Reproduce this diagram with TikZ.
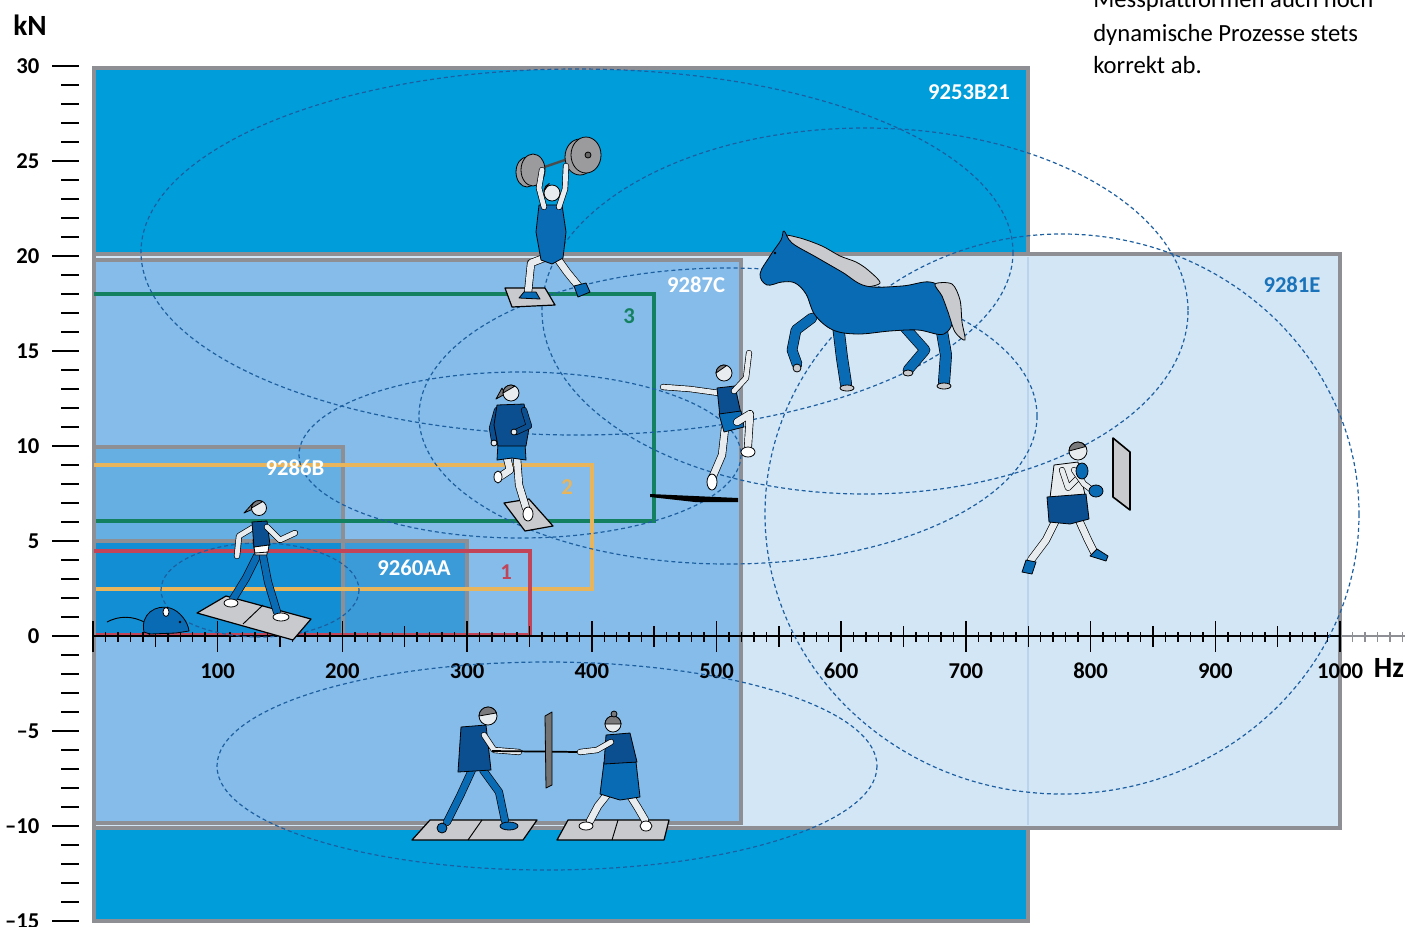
\documentclass[tikz,border=0pt]{standalone}
\usepackage{fontspec}
\setmainfont{Carlito}
\usepackage{tikz}

\definecolor{sensorblue}{HTML}{009DDB}
\definecolor{paleblue}{HTML}{D3E6F5}
\definecolor{midblue}{HTML}{86BCE9}
\definecolor{lightmid}{HTML}{66AFE2}
\definecolor{deepmid}{HTML}{3B9BD8}
\definecolor{overlapblue}{HTML}{128FD4}
\definecolor{framegrey}{HTML}{8E8F94}
\definecolor{seamblue}{HTML}{BBD4EE}
\definecolor{zoneblue}{HTML}{1D5FA0}
\definecolor{rangegreen}{HTML}{138060}
\definecolor{rangeorange}{HTML}{E8B55C}
\definecolor{rangered}{HTML}{C24459}
\definecolor{labelblue}{HTML}{1A73BA}
\definecolor{shirtblue}{HTML}{0B4F91}
\definecolor{suitblue}{HTML}{0A6BB5}
\definecolor{skin}{HTML}{E9ECEF}
\definecolor{hairgrey}{HTML}{7A7A7D}
\definecolor{plategrey}{HTML}{C9CACD}
\definecolor{discgrey}{HTML}{9B9B9E}

\tikzset{
    platformframe/.style={draw=framegrey, line width=3pt},
    rangebox/.style={line width=2.6pt},
    zonering/.style={draw=zoneblue, line width=0.9pt, dash pattern=on 3pt off 2.2pt},
    tickmark/.style={line width=1.1pt},
    ticklbl/.style={font=\fontsize{17}{19}\selectfont\bfseries},
    axislbl/.style={font=\fontsize{22}{24}\selectfont\bfseries},
    boxlbl/.style={font=\fontsize{17}{19}\selectfont\bfseries, text=white},
    rangelbl/.style={font=\fontsize{17}{18}\selectfont\bfseries},
    captionline/.style={anchor=base west, font=\fontsize{18.5}{24}\selectfont, inner sep=0pt},
    limb/.style={draw=black, line width=0.5pt, double=#1, double distance=5pt,
                 line cap=round, line join=round},
    arm/.style={limb=#1, double distance=3.6pt},
    part/.style={draw=black, line width=0.6pt, fill=#1, line join=round},
    plate/.style={part=plategrey, line width=0.9pt},
}

\begin{document}
\begin{tikzpicture}[x=0.75pt, y=-0.75pt]
    \useasboundingbox (0,0) rectangle (1417,926);

    % measuring ranges of the platforms
    \draw[platformframe, fill=sensorblue] (94,68) rectangle (1028,921);
    \draw[platformframe, fill=paleblue] (94,254) rectangle (1340,828);
    \draw[seamblue, line width=2.2pt] (1028,257) -- (1028,825);
    \draw[platformframe, fill=midblue] (94,260) rectangle (741,823);
    \fill[lightmid] (94,447) rectangle (343,636);
    \fill[deepmid] (94,541) rectangle (467,636);
    \fill[overlapblue] (94,541) rectangle (343,636);
    \draw[platformframe] (94,636) |- (343,447) -- (343,636);
    \draw[platformframe] (94,636) |- (467,541) -- (467,636);

    \draw[rangebox, rangegreen] (94,294) -| (654,521) -- (96,521);
    \draw[rangebox, rangeorange] (94,465) -| (592,589) -- (96,589);
    \draw[rangebox, rangered] (94,551) -| (530,635) -- (96,635);

    % axes
    \draw[line width=1.5pt] (93,636) -- (1341,636);
    \draw[line width=1.5pt, framegrey] (1341,636) -- (1405,636);
    \foreach \f in {0,10,...,1000}
        \draw[tickmark] ({93+1.247*\f},632) -- ++(0,10);
    \foreach \f in {0,50,...,1000}
        \draw[tickmark] ({93+1.247*\f},626) -- ++(0,21);
    \foreach \f in {0,100,...,1000}
        \draw[tickmark] ({93+1.247*\f},621) -- ++(0,31);
    \foreach \f in {1010,1020,...,1050}
        \draw[tickmark, framegrey] ({93+1.247*\f},632) -- ++(0,10);
    \foreach \f in {100,200,...,1000}
        \node[ticklbl] (hz\f) at ({93+1.247*\f},671) {\f};

    \foreach \k in {-15,...,30}
        \draw[tickmark] (61,{636-19*\k}) -- (79,{636-19*\k});
    \foreach \k in {-15,-10,...,30}
        \draw[tickmark] (52,{636-19*\k}) -- (79,{636-19*\k});
    \foreach \k/\t in {30/30,25/25,20/20,15/15,10/10,5/5,0/0,-5/–5,-10/–10,-15/–15}
        \node[ticklbl, anchor=east] (kn\k) at (44,{636-19*\k}) {\t};

    \node[axislbl] (unitkn) at (30,25) {kN};
    \node[axislbl] (unithz) at (1389,668) {Hz};

    % typical load zones
    \draw[zonering] (577,252) ellipse [x radius=436, y radius=183];
    \draw[zonering] (865,311) ellipse [x radius=323, y radius=183];
    \draw[zonering] (728,416) ellipse [x radius=309, y radius=148];
    \draw[zonering] (1062,514) ellipse [x radius=297, y radius=280];
    \draw[zonering] (520,455) ellipse [x radius=221, y radius=83];
    \draw[zonering] (260,590) ellipse [x radius=99, y radius=47];
    \draw[zonering] (547,766) ellipse [x radius=330, y radius=104];

    % mouse
    \draw[line width=0.7pt] (146,623) .. controls (132,615) and (118,616) .. (107,622);
    \path[part=suitblue] (144,632) .. controls (140,614) and (156,604) .. (170,608)
        .. controls (180,611) and (188,622) .. (189,631) -- (176,633) -- (150,634) -- cycle;
    \path[part=white] (166,612) ellipse [x radius=3, y radius=4.5];
    \fill (180,622) circle [radius=1.4];
    \draw[line width=0.6pt] (150,633) -- (148,637) (168,633) -- (170,637);

    % walker
    \path[plate] (197,613) -- (226,596) -- (311,619) -- (293,640) -- cycle;
    \draw[line width=0.7pt] (243,624) -- (263,605);
    \draw[arm=skin] (254,527) -- (239,536) -- (237,556);
    \draw[limb=suitblue] (257,556) -- (246,578) -- (233,599);
    \path[part=white] (231,603) ellipse [x radius=7, y radius=4];
    \draw[limb=suitblue] (263,556) -- (268,582) -- (277,612);
    \path[part=white] (281,617) ellipse [x radius=8, y radius=4];
    \path[part=skin] (253,540) -- (268,540) -- (267,555) -- (255,555) -- cycle;
    \path[part=shirtblue] (252,522) -- (267,521) -- (270,545) -- (254,547) -- cycle;
    \path[part=white] (254,547) -- (269,545) -- (268,552) -- (255,553) -- cycle;
    \draw[arm=skin] (267,527) -- (280,540) -- (295,533);
    \path[part=hairgrey] (253,503) -- (244,513) -- (253,509) -- cycle;
    \path[part=skin] (259,508) circle [radius=7.5];
    \path[part=hairgrey] (251.5,508) arc [start angle=180, end angle=300, radius=7.5] -- cycle;

    % runner
    \path[plate] (504,503) -- (529,499) -- (553,526) -- (525,531) -- cycle;
    \draw[limb=skin] (507,458) -- (510,470) -- (501,476);
    \path[part=white] (498,477) ellipse [x radius=4, y radius=6];
    \draw[limb=skin] (517,458) -- (519,485) -- (526,508);
    \path[part=white] (528,514) ellipse [x radius=5, y radius=7];
    \path[part=suitblue] (498,443) -- (525,443) -- (526,460) -- (512,458) -- (497,460) -- cycle;
    \draw[arm=shirtblue] (497,410) -- (492,428) -- (494,440);
    \path[part=skin] (494,443) circle [radius=3];
    \path[part=shirtblue] (497,405) -- (524,404) -- (529,428) -- (526,446) -- (498,446) -- (494,425) -- cycle;
    \draw[arm=shirtblue] (524,410) -- (529,426) -- (516,432);
    \path[part=skin] (514,432) circle [radius=3];
    \path[part=hairgrey] (502,388) -- (496,399) -- (505,394) -- cycle;
    \path[part=skin] (511,393) circle [radius=8];
    \path[part=hairgrey] (503,393) arc [start angle=180, end angle=300, radius=8] -- cycle;

    % jumper
    \fill (650,494) -- (738,498) -- (738,502) -- (695,502) -- (650,497) -- cycle;
    \draw[limb=skin] (725,428) -- (722,455) -- (713,476);
    \path[part=white] (712,482) ellipse [x radius=5, y radius=8];
    \draw[arm=skin] (719,393) -- (690,389) -- (663,387);
    \path[part=shirtblue] (717,388) -- (735,386) -- (741,414) -- (720,417) -- cycle;
    \path[part=suitblue] (719,414) -- (741,411) -- (744,427) -- (724,432) -- cycle;
    \draw[limb=skin] (737,422) -- (750,414) -- (748,446);
    \path[part=white] (748,452) ellipse [x radius=7, y radius=5];
    \draw[arm=skin] (734,391) -- (746,378) -- (749,353);
    \path[part=skin] (724,373) circle [radius=8];
    \path[part=hairgrey] (716,373) arc [start angle=180, end angle=290, radius=8] -- cycle;

    % weightlifter
    \path[plate] (505,288) -- (545,288) -- (555,305) -- (512,307) -- cycle;
    \draw[limb=skin] (557,258) -- (567,272) -- (580,288);
    \path[part=suitblue] (574,286) -- (586,283) -- (590,292) -- (578,297) -- cycle;
    \draw[limb=skin] (544,258) -- (531,263) -- (528,293);
    \path[part=suitblue] (519,298) -- (524,292) -- (536,292) -- (540,299) -- cycle;
    \path[part=suitblue] (539,205) -- (562,205) -- (566,232) -- (563,258) -- (552,264)
        -- (541,260) -- (536,232) -- cycle;
    \draw[line width=1.8pt, black!70] (524,174) -- (594,150);
    \path[part=discgrey] (527,172) ellipse [x radius=11, y radius=15];
    \path[part=discgrey] (533,170) ellipse [x radius=12, y radius=16];
    \path[part=discgrey] (580,157) ellipse [x radius=15, y radius=18];
    \path[part=discgrey] (586,155) ellipse [x radius=15, y radius=18];
    \path[part=black!60] (588,155) circle [radius=3];
    \draw[arm=skin] (544,207) -- (539,188) -- (542,170);
    \draw[arm=skin] (559,207) -- (565,189) -- (566,166);
    \path[part=skin] (552,193) circle [radius=8];
    \path[part=hairgrey] (544,191) arc [start angle=180, end angle=250, radius=8] -- cycle;

    % horse
    \draw[limb=suitblue, double distance=7pt] (900,322) -- (925,350) -- (908,370);
    \draw[limb=suitblue, double distance=7pt] (812,318) -- (796,330) -- (792,350) -- (797,364);
    \draw[limb=suitblue, double distance=8pt] (838,325) -- (842,358) -- (846,384);
    \draw[limb=suitblue, double distance=8pt] (940,320) -- (946,355) -- (944,382);
    \path[part=plategrey] (908,373) ellipse [x radius=5, y radius=3];
    \path[part=plategrey] (797,368) ellipse [x radius=4, y radius=4];
    \path[part=plategrey] (847,388) ellipse [x radius=7, y radius=3];
    \path[part=plategrey] (944,386) ellipse [x radius=7, y radius=3];
    \path[part=plategrey] plot[smooth cycle, tension=0.5] coordinates {(783,236) (800,238)
        (822,246) (840,256) (856,262) (868,270) (880,283) (862,287) (840,280) (815,268)
        (797,256)};
    \path[part=suitblue] plot[smooth cycle, tension=0.6] coordinates {(760,274) (770,256)
        (781,240) (784,231) (792,243) (816,257) (842,272) (866,286) (902,286) (930,282)
        (948,293) (954,316) (944,334) (918,330) (890,331) (858,334) (833,330) (815,315)
        (806,294) (795,283) (782,282) (767,285)};
    \path[part=plategrey] plot[smooth cycle, tension=0.5] coordinates {(935,284) (952,284)
        (960,300) (962,322) (965,340) (955,332) (948,312) (942,296)};
    \fill (775,253) circle [radius=1.3];

    % boxer
    \path[part=plategrey, line width=1.2pt] (1113,438) -- (1130,452) -- (1130,510) -- (1113,497) -- cycle;
    \draw[limb=skin] (1057,518) -- (1046,540) -- (1031,560);
    \path[part=suitblue] (1022,572) -- (1026,560) -- (1036,562) -- (1032,574) -- cycle;
    \draw[limb=skin] (1078,518) -- (1088,540) -- (1094,552);
    \path[part=suitblue] (1090,556) -- (1097,549) -- (1108,556) -- (1106,561) -- cycle;
    \path[part=skin] (1054,465) -- (1078,462) -- (1085,495) -- (1050,498) -- cycle;
    \path[part=shirtblue] (1047,497) -- (1086,494) -- (1089,519) -- (1070,524) -- (1049,522) -- cycle;
    \draw[arm=skin] (1062,470) -- (1068,488) -- (1081,475);
    \draw[arm=skin] (1074,470) -- (1084,484) -- (1092,490);
    \path[part=suitblue] (1082,471) ellipse [x radius=6, y radius=8];
    \path[part=suitblue] (1096,491) ellipse [x radius=7, y radius=6];
    \path[part=skin] (1078,451) circle [radius=9];
    \path[part=hairgrey] (1069,451) arc [start angle=180, end angle=330, radius=9] -- cycle;

    % two persons pulling
    \path[plate] (412,840) -- (430,820) -- (537,820) -- (523,840) -- cycle;
    \draw[line width=0.7pt] (468,840) -- (482,820);
    \path[plate] (557,840) -- (568,820) -- (669,820) -- (664,840) -- cycle;
    \draw[line width=0.7pt] (612,840) -- (618,820);
    \draw[limb=suitblue] (472,770) -- (460,796) -- (447,822);
    \draw[limb=suitblue] (483,770) -- (499,792) -- (505,821);
    \path[part=suitblue] (442,828) ellipse [x radius=5, y radius=5];
    \path[part=suitblue] (509,826) ellipse [x radius=9, y radius=4];
    \path[part=shirtblue] (461,727) -- (486,725) -- (491,770) -- (458,772) -- cycle;
    \draw[arm=skin] (484,735) -- (494,750) -- (519,752);
    \path[part=skin] (488,716) circle [radius=9];
    \path[part=hairgrey] (479,716) arc [start angle=180, end angle=340, radius=9] -- cycle;
    \draw[line width=1.3pt] (492,751) -- (580,752);
    \path[part=black!55] (545,716) -- (552,712) -- (552,785) -- (546,788) -- cycle;
    \draw[limb=skin] (609,792) -- (598,806) -- (590,821);
    \draw[limb=skin] (628,792) -- (638,808) -- (645,820);
    \path[part=white] (586,826) ellipse [x radius=7, y radius=4];
    \path[part=white] (646,826) ellipse [x radius=6, y radius=5];
    \path[part=suitblue] (604,762) -- (636,762) -- (640,797) -- (620,800) -- (600,794) -- cycle;
    \path[part=shirtblue] (606,735) -- (630,733) -- (637,762) -- (604,764) -- cycle;
    \draw[arm=skin] (611,742) -- (597,750) -- (580,752);
    \path[part=skin] (613,724) circle [radius=8];
    \path[part=hairgrey] (605,724) arc [start angle=180, end angle=360, radius=8] -- cycle;
    \path[part=hairgrey] (614,714) circle [radius=3];

    % platform names and ranges
    \node[boxlbl] (b21) at (969,92) {9253B21};
    \node[boxlbl, text=labelblue] (e81) at (1292,285) {9281E};
    \node[boxlbl] (c87) at (696,285) {9287C};
    \node[boxlbl] (b86) at (295,468) {9286B};
    \node[boxlbl] (aa60) at (414,568) {9260AA};
    \node[rangelbl, text=rangered] (r1) at (506,572) {1};
    \node[rangelbl, text=rangeorange] (r2) at (567,487) {2};
    \node[rangelbl, text=rangegreen] (r3) at (629,316) {3};

    % caption, cut at the top
    \node[captionline] (cap1) at (1093,7) {Messplattformen auch noch};
    \node[captionline] (cap2) at (1093,41) {dynamische Prozesse stets};
    \node[captionline] (cap3) at (1093,73) {korrekt ab.};
\end{tikzpicture}
\end{document}
